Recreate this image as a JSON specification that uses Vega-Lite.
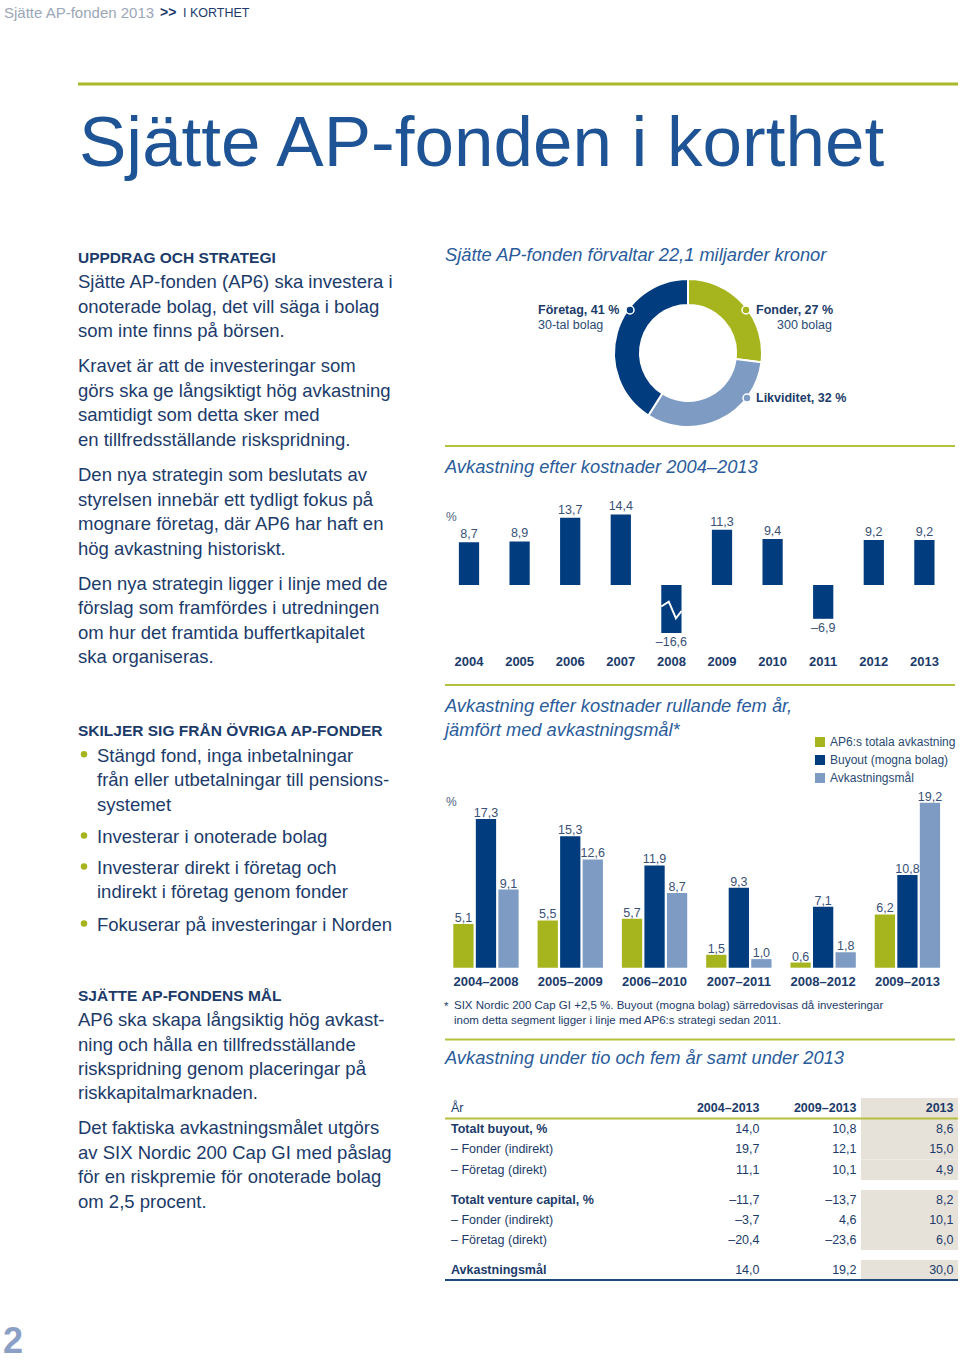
{
"$schema":"https://vega.github.io/schema/vega-lite/v6.json",
"width":960,"height":1362,"autosize":"none","padding":0,"background":"#ffffff",
"config":{
 "view":{"stroke":null},
 "font":"Liberation Sans",
 "axis":{"disable":true},
 "locale":{"number":{"decimal":",","thousands":" ","grouping":[3],"currency":["","kr"],"minus":"\u2013"}},
 "style":{
  "head":{"fontSize":15.5,"fontWeight":"bold","color":"#1c3b6a","align":"left","baseline":"middle"},
  "body":{"fontSize":18.5,"color":"#1c3b6a","align":"left","baseline":"middle"},
  "ital":{"fontSize":18.3,"fontStyle":"italic","color":"#2a5c9b","align":"left","baseline":"middle"},
  "pct":{"fontSize":12,"color":"#4b5f7e","align":"left","baseline":"middle"},
  "foot":{"fontSize":11.5,"color":"#1c3b6a","align":"left","baseline":"middle"},
  "dlab":{"fontSize":12.5,"fontWeight":"bold","color":"#1c3b6a","align":"left","baseline":"middle"},
  "dsub":{"fontSize":12.5,"color":"#2a4a72","align":"left","baseline":"middle"},
  "vlab":{"fontSize":12.5,"color":"#3a5176","align":"center","baseline":"alphabetic"},
  "xlab":{"fontSize":13,"fontWeight":"bold","color":"#1c3b6a","align":"center","baseline":"alphabetic"},
  "tab":{"fontSize":12.5,"color":"#1c3b6a","baseline":"middle"}
 }
},
"datasets":{
 "left":[
  {"b":1,"l":0,"k":"h","t":"UPPDRAG OCH STRATEGI"},
  {"b":1,"l":1,"k":"p","t":"Sjätte AP-fonden (AP6) ska investera i"},
  {"b":1,"l":2,"k":"p","t":"onoterade bolag, det vill säga i bolag"},
  {"b":1,"l":3,"k":"p","t":"som inte finns på börsen."},
  {"b":2,"l":0,"k":"p","t":"Kravet är att de investeringar som"},
  {"b":2,"l":1,"k":"p","t":"görs ska ge långsiktigt hög avkastning"},
  {"b":2,"l":2,"k":"p","t":"samtidigt som detta sker med"},
  {"b":2,"l":3,"k":"p","t":"en tillfredsställande riskspridning."},
  {"b":3,"l":0,"k":"p","t":"Den nya strategin som beslutats av"},
  {"b":3,"l":1,"k":"p","t":"styrelsen innebär ett tydligt fokus på"},
  {"b":3,"l":2,"k":"p","t":"mognare företag, där AP6 har haft en"},
  {"b":3,"l":3,"k":"p","t":"hög avkastning historiskt."},
  {"b":4,"l":0,"k":"p","t":"Den nya strategin ligger i linje med de"},
  {"b":4,"l":1,"k":"p","t":"förslag som framfördes i utredningen"},
  {"b":4,"l":2,"k":"p","t":"om hur det framtida buffertkapitalet"},
  {"b":4,"l":3,"k":"p","t":"ska organiseras."},
  {"b":5,"l":0,"k":"h","t":"SKILJER SIG FRÅN ÖVRIGA AP-FONDER"},
  {"b":5,"l":1,"k":"b","t":"Stängd fond, inga inbetalningar"},
  {"b":5,"l":2,"k":"c","t":"från eller utbetalningar till pensions-"},
  {"b":5,"l":3,"k":"c","t":"systemet"},
  {"b":6,"l":0,"k":"b","t":"Investerar i onoterade bolag"},
  {"b":7,"l":0,"k":"b","t":"Investerar direkt i företag och"},
  {"b":7,"l":1,"k":"c","t":"indirekt i företag genom fonder"},
  {"b":8,"l":0,"k":"b","t":"Fokuserar på investeringar i Norden"},
  {"b":9,"l":0,"k":"h","t":"SJÄTTE AP-FONDENS MÅL"},
  {"b":9,"l":1,"k":"p","t":"AP6 ska skapa långsiktig hög avkast-"},
  {"b":9,"l":2,"k":"p","t":"ning och hålla en tillfredsställande"},
  {"b":9,"l":3,"k":"p","t":"riskspridning genom placeringar på"},
  {"b":9,"l":4,"k":"p","t":"riskkapitalmarknaden."},
  {"b":10,"l":0,"k":"p","t":"Det faktiska avkastningsmålet utgörs"},
  {"b":10,"l":1,"k":"p","t":"av SIX Nordic 200 Cap GI med påslag"},
  {"b":10,"l":2,"k":"p","t":"för en riskpremie för onoterade bolag"},
  {"b":10,"l":3,"k":"p","t":"om 2,5 procent."}
 ],
 "donut":[
  {"name":"Fonder","pct":27,"o":1,"label":"Fonder, 27 %","sub":"300 bolag"},
  {"name":"Likviditet","pct":32,"o":2,"label":"Likviditet, 32 %","sub":""},
  {"name":"Företag","pct":41,"o":3,"label":"Företag, 41 %","sub":"30-tal bolag"}
 ],
 "yearly":[
  {"year":"2004","v":8.7},{"year":"2005","v":8.9},{"year":"2006","v":13.7},{"year":"2007","v":14.4},{"year":"2008","v":-16.6},
  {"year":"2009","v":11.3},{"year":"2010","v":9.4},{"year":"2011","v":-6.9},{"year":"2012","v":9.2},{"year":"2013","v":9.2}
 ],
 "rolling":[
  {"per":"2004–2008","s":"AP6:s totala avkastning","v":5.1},{"per":"2004–2008","s":"Buyout (mogna bolag)","v":17.3},{"per":"2004–2008","s":"Avkastningsmål","v":9.1},
  {"per":"2005–2009","s":"AP6:s totala avkastning","v":5.5},{"per":"2005–2009","s":"Buyout (mogna bolag)","v":15.3},{"per":"2005–2009","s":"Avkastningsmål","v":12.6},
  {"per":"2006–2010","s":"AP6:s totala avkastning","v":5.7},{"per":"2006–2010","s":"Buyout (mogna bolag)","v":11.9},{"per":"2006–2010","s":"Avkastningsmål","v":8.7},
  {"per":"2007–2011","s":"AP6:s totala avkastning","v":1.5},{"per":"2007–2011","s":"Buyout (mogna bolag)","v":9.3},{"per":"2007–2011","s":"Avkastningsmål","v":1.0},
  {"per":"2008–2012","s":"AP6:s totala avkastning","v":0.6},{"per":"2008–2012","s":"Buyout (mogna bolag)","v":7.1},{"per":"2008–2012","s":"Avkastningsmål","v":1.8},
  {"per":"2009–2013","s":"AP6:s totala avkastning","v":6.2},{"per":"2009–2013","s":"Buyout (mogna bolag)","v":10.8},{"per":"2009–2013","s":"Avkastningsmål","v":19.2}
 ],
 "table":[
  {"g":1,"row":"Totalt buyout, %","lv":"t","per":"2004–2013","v":14.0},{"g":1,"row":"Totalt buyout, %","lv":"t","per":"2009–2013","v":10.8},{"g":1,"row":"Totalt buyout, %","lv":"t","per":"2013","v":8.6},
  {"g":1,"row":"– Fonder (indirekt)","lv":"s","per":"2004–2013","v":19.7},{"g":1,"row":"– Fonder (indirekt)","lv":"s","per":"2009–2013","v":12.1},{"g":1,"row":"– Fonder (indirekt)","lv":"s","per":"2013","v":15.0},
  {"g":1,"row":"– Företag (direkt)","lv":"s","per":"2004–2013","v":11.1},{"g":1,"row":"– Företag (direkt)","lv":"s","per":"2009–2013","v":10.1},{"g":1,"row":"– Företag (direkt)","lv":"s","per":"2013","v":4.9},
  {"g":2,"row":"Totalt venture capital, %","lv":"t","per":"2004–2013","v":-11.7},{"g":2,"row":"Totalt venture capital, %","lv":"t","per":"2009–2013","v":-13.7},{"g":2,"row":"Totalt venture capital, %","lv":"t","per":"2013","v":8.2},
  {"g":2,"row":"– Fonder (indirekt)","lv":"s","per":"2004–2013","v":-3.7},{"g":2,"row":"– Fonder (indirekt)","lv":"s","per":"2009–2013","v":4.6},{"g":2,"row":"– Fonder (indirekt)","lv":"s","per":"2013","v":10.1},
  {"g":2,"row":"– Företag (direkt)","lv":"s","per":"2004–2013","v":-20.4},{"g":2,"row":"– Företag (direkt)","lv":"s","per":"2009–2013","v":-23.6},{"g":2,"row":"– Företag (direkt)","lv":"s","per":"2013","v":6.0},
  {"g":3,"row":"Avkastningsmål","lv":"t","per":"2004–2013","v":14.0},{"g":3,"row":"Avkastningsmål","lv":"t","per":"2009–2013","v":19.2},{"g":3,"row":"Avkastningsmål","lv":"t","per":"2013","v":30.0}
 ]
},
"resolve":{"scale":{"x":"independent","y":"independent","color":"independent","theta":"independent"}},
"layer":[
 {"data":{"values":[{}]},"layer":[
  {"mark":{"type":"text","text":"Sjätte AP-fonden 2013","x":4,"y":12.5,"align":"left","baseline":"middle","fontSize":15,"color":"#9ba7b6"}},
  {"mark":{"type":"text","text":">>","x":160,"y":12.5,"align":"left","baseline":"middle","fontSize":14,"fontWeight":"bold","color":"#1c3b6a"}},
  {"mark":{"type":"text","text":"I KORTHET","x":183,"y":13,"align":"left","baseline":"middle","fontSize":12.5,"color":"#1c3b6a"}},
  {"mark":{"type":"rule","color":"#aab92a","strokeWidth":3},"encoding":{"x":{"value":78},"x2":{"value":958},"y":{"value":84}}},
  {"mark":{"type":"text","text":"Sjätte AP-fonden i korthet","x":79,"y":166,"align":"left","baseline":"alphabetic","fontSize":71,"color":"#1e5495"}},
  {"mark":{"type":"text","text":"2","x":3,"y":1361,"align":"left","baseline":"bottom","fontSize":36,"fontWeight":"bold","color":"#8aa0c4"}},
  {"mark":{"type":"text","style":"ital","text":"Sjätte AP-fonden förvaltar 22,1 miljarder kronor","x":445,"y":256}},
  {"mark":{"type":"rule","color":"#b5c03e","strokeWidth":2},"encoding":{"x":{"value":445},"x2":{"value":955},"y":{"value":446}}},
  {"mark":{"type":"text","style":"ital","text":"Avkastning efter kostnader 2004–2013","x":445,"y":468}},
  {"mark":{"type":"text","style":"pct","text":"%","x":446,"y":517}},
  {"mark":{"type":"rule","color":"#b5c03e","strokeWidth":2},"encoding":{"x":{"value":445},"x2":{"value":955},"y":{"value":685}}},
  {"mark":{"type":"text","style":"ital","text":"Avkastning efter kostnader rullande fem år,","x":445,"y":707}},
  {"mark":{"type":"text","style":"ital","text":"jämfört med avkastningsmål*","x":445,"y":731}},
  {"mark":{"type":"text","style":"pct","text":"%","x":446,"y":802}},
  {"mark":{"type":"text","style":"foot","text":"*","x":444,"y":1007}},
  {"mark":{"type":"text","style":"foot","text":"SIX Nordic 200 Cap GI +2,5 %. Buyout (mogna bolag) särredovisas då investeringar","x":454,"y":1006}},
  {"mark":{"type":"text","style":"foot","text":"inom detta segment ligger i linje med AP6:s strategi sedan 2011.","x":454,"y":1021}},
  {"mark":{"type":"rule","color":"#b5c03e","strokeWidth":2},"encoding":{"x":{"value":445},"x2":{"value":955},"y":{"value":1039.5}}},
  {"mark":{"type":"text","style":"ital","text":"Avkastning under tio och fem år samt under 2013","x":445,"y":1059}}
 ]},
 {"data":{"name":"left"},"resolve":{"scale":{"y":"independent"}},"layer":[
  {"transform":[{"filter":"datum.b==1"}],"encoding":{"y":{"field":"l","type":"quantitative","scale":{"domain":[0,3],"range":[258,331],"nice":false,"zero":false}}},"layer":[
   {"transform":[{"filter":"datum.k=='h'"}],"mark":{"type":"text","style":"head"},"encoding":{"x":{"value":78},"text":{"field":"t"}}},
   {"transform":[{"filter":"datum.k=='p'"}],"mark":{"type":"text","style":"body"},"encoding":{"x":{"value":78},"text":{"field":"t"}}}]},
  {"transform":[{"filter":"datum.b==2"}],"encoding":{"y":{"field":"l","type":"quantitative","scale":{"domain":[0,3],"range":[366,440],"nice":false,"zero":false}}},"layer":[
   {"mark":{"type":"text","style":"body"},"encoding":{"x":{"value":78},"text":{"field":"t"}}}]},
  {"transform":[{"filter":"datum.b==3"}],"encoding":{"y":{"field":"l","type":"quantitative","scale":{"domain":[0,3],"range":[475,548.5],"nice":false,"zero":false}}},"layer":[
   {"mark":{"type":"text","style":"body"},"encoding":{"x":{"value":78},"text":{"field":"t"}}}]},
  {"transform":[{"filter":"datum.b==4"}],"encoding":{"y":{"field":"l","type":"quantitative","scale":{"domain":[0,3],"range":[584,657],"nice":false,"zero":false}}},"layer":[
   {"mark":{"type":"text","style":"body"},"encoding":{"x":{"value":78},"text":{"field":"t"}}}]},
  {"transform":[{"filter":"datum.b==5"}],"encoding":{"y":{"field":"l","type":"quantitative","scale":{"domain":[0,3],"range":[731,805],"nice":false,"zero":false}}},"layer":[
   {"transform":[{"filter":"datum.k=='h'"}],"mark":{"type":"text","style":"head"},"encoding":{"x":{"value":78},"text":{"field":"t"}}},
   {"transform":[{"filter":"datum.k=='b'||datum.k=='c'"}],"mark":{"type":"text","style":"body"},"encoding":{"x":{"value":97},"text":{"field":"t"}}},
   {"transform":[{"filter":"datum.k=='b'"}],"mark":{"type":"point","filled":true,"size":42,"yOffset":-1.5,"color":"#a6b51e","opacity":1},"encoding":{"x":{"value":84}}}]},
  {"transform":[{"filter":"datum.b==6"}],"encoding":{"y":{"field":"l","type":"quantitative","scale":{"domain":[0,1],"range":[837,861.5],"nice":false,"zero":false}}},"layer":[
   {"mark":{"type":"text","style":"body"},"encoding":{"x":{"value":97},"text":{"field":"t"}}},
   {"transform":[{"filter":"datum.k=='b'"}],"mark":{"type":"point","filled":true,"size":42,"yOffset":-1.5,"color":"#a6b51e","opacity":1},"encoding":{"x":{"value":84}}}]},
  {"transform":[{"filter":"datum.b==7"}],"encoding":{"y":{"field":"l","type":"quantitative","scale":{"domain":[0,1],"range":[868,892],"nice":false,"zero":false}}},"layer":[
   {"mark":{"type":"text","style":"body"},"encoding":{"x":{"value":97},"text":{"field":"t"}}},
   {"transform":[{"filter":"datum.k=='b'"}],"mark":{"type":"point","filled":true,"size":42,"yOffset":-1.5,"color":"#a6b51e","opacity":1},"encoding":{"x":{"value":84}}}]},
  {"transform":[{"filter":"datum.b==8"}],"encoding":{"y":{"field":"l","type":"quantitative","scale":{"domain":[0,1],"range":[925,949.5],"nice":false,"zero":false}}},"layer":[
   {"mark":{"type":"text","style":"body"},"encoding":{"x":{"value":97},"text":{"field":"t"}}},
   {"transform":[{"filter":"datum.k=='b'"}],"mark":{"type":"point","filled":true,"size":42,"yOffset":-1.5,"color":"#a6b51e","opacity":1},"encoding":{"x":{"value":84}}}]},
  {"transform":[{"filter":"datum.b==9"}],"encoding":{"y":{"field":"l","type":"quantitative","scale":{"domain":[0,4],"range":[996,1093],"nice":false,"zero":false}}},"layer":[
   {"transform":[{"filter":"datum.k=='h'"}],"mark":{"type":"text","style":"head"},"encoding":{"x":{"value":78},"text":{"field":"t"}}},
   {"transform":[{"filter":"datum.k=='p'"}],"mark":{"type":"text","style":"body"},"encoding":{"x":{"value":78},"text":{"field":"t"}}}]},
  {"transform":[{"filter":"datum.b==10"}],"encoding":{"y":{"field":"l","type":"quantitative","scale":{"domain":[0,3],"range":[1128,1202],"nice":false,"zero":false}}},"layer":[
   {"mark":{"type":"text","style":"body"},"encoding":{"x":{"value":78},"text":{"field":"t"}}}]}
 ]},
 {"data":{"name":"donut"},"layer":[
  {"mark":{"type":"arc","innerRadius":48,"outerRadius":74,"stroke":"#ffffff","strokeWidth":2},
   "encoding":{"x":{"value":688},"y":{"value":353},"theta":{"field":"pct","type":"quantitative","stack":true},"order":{"field":"o","type":"quantitative"},
    "color":{"field":"name","type":"nominal","scale":{"domain":["Fonder","Likviditet","Företag"],"range":["#a6b51e","#7e9bc4","#003c7e"]},"legend":null}}},
  {"transform":[{"filter":"datum.name=='Företag'"}],"mark":{"type":"point","filled":true,"size":64,"stroke":"#ffffff","strokeWidth":1.5,"opacity":1},"encoding":{"x":{"value":630},"y":{"value":310},"color":{"field":"name","type":"nominal","legend":null}}},
  {"transform":[{"filter":"datum.name=='Fonder'"}],"mark":{"type":"point","filled":true,"size":64,"stroke":"#ffffff","strokeWidth":1.5,"opacity":1},"encoding":{"x":{"value":746},"y":{"value":310},"color":{"field":"name","type":"nominal","legend":null}}},
  {"transform":[{"filter":"datum.name=='Likviditet'"}],"mark":{"type":"point","filled":true,"size":64,"stroke":"#ffffff","strokeWidth":1.5,"opacity":1},"encoding":{"x":{"value":747},"y":{"value":398},"color":{"field":"name","type":"nominal","legend":null}}},
  {"transform":[{"filter":"datum.name=='Företag'"}],"mark":{"type":"text","style":"dlab"},"encoding":{"x":{"value":538},"y":{"value":310},"text":{"field":"label"}}},
  {"transform":[{"filter":"datum.name=='Företag'"}],"mark":{"type":"text","style":"dsub"},"encoding":{"x":{"value":538},"y":{"value":325},"text":{"field":"sub"}}},
  {"transform":[{"filter":"datum.name=='Fonder'"}],"mark":{"type":"text","style":"dlab"},"encoding":{"x":{"value":756},"y":{"value":310},"text":{"field":"label"}}},
  {"transform":[{"filter":"datum.name=='Fonder'"}],"mark":{"type":"text","style":"dsub"},"encoding":{"x":{"value":777},"y":{"value":325},"text":{"field":"sub"}}},
  {"transform":[{"filter":"datum.name=='Likviditet'"}],"mark":{"type":"text","style":"dlab"},"encoding":{"x":{"value":756},"y":{"value":398},"text":{"field":"label"}}}
 ]},
 {"data":{"name":"yearly"},
  "encoding":{"x":{"field":"year","type":"nominal","sort":null,"scale":{"range":[443.7,949.7],"paddingInner":0.6,"paddingOuter":0.3}},
   "y":{"field":"v","type":"quantitative","scale":{"domain":[-9.8,16],"range":[633,506.6],"clamp":true,"nice":false,"zero":false}}},
  "layer":[
   {"mark":{"type":"bar","color":"#003c7e"}},
   {"transform":[{"filter":"datum.year=='2008'"}],"mark":{"type":"point","shape":"M-1,-0.34L-0.26,-0.82L0.45,0.82L1,0.1","filled":false,"size":410,"stroke":"#ffffff","strokeWidth":2,"opacity":1,"strokeJoin":"miter"},"encoding":{"y":{"datum":-5.1}}},
   {"data":{"values":[{}]},"mark":{"type":"rule","color":"#a3abb3","strokeWidth":1.5},"encoding":{"x":{"value":445},"x2":{"value":950},"y":{"datum":0}}},
   {"transform":[{"filter":"datum.v>=0"}],"mark":{"type":"text","style":"vlab","dy":-4},"encoding":{"text":{"field":"v","type":"quantitative","format":".1f"}}},
   {"transform":[{"filter":"datum.v<0"}],"mark":{"type":"text","style":"vlab","dy":13},"encoding":{"text":{"field":"v","type":"quantitative","format":".1f"}}},
   {"mark":{"type":"text","style":"xlab","dy":32.5},"encoding":{"y":{"datum":-9.8},"text":{"field":"year"}}}
  ]},
 {"data":{"name":"rolling"},
  "encoding":{"x":{"field":"per","type":"nominal","sort":null,"scale":{"range":[443.7,949.7],"paddingInner":0.225,"paddingOuter":0.114}},
   "y":{"field":"v","type":"quantitative","scale":{"domain":[0,20],"range":[967.7,795.9],"nice":false,"zero":false}}},
  "layer":[
   {"mark":{"type":"bar"},"encoding":{
     "xOffset":{"field":"s","type":"nominal","sort":null,"scale":{"domain":["AP6:s totala avkastning","Buyout (mogna bolag)","Avkastningsmål"],"paddingInner":0.1,"paddingOuter":0}},
     "color":{"field":"s","type":"nominal","sort":null,"scale":{"domain":["AP6:s totala avkastning","Buyout (mogna bolag)","Avkastningsmål"],"range":["#a6b51e","#003c7e","#7e9bc4"]},
      "legend":{"orient":"none","legendX":814,"legendY":736,"title":null,"symbolType":"square","symbolSize":100,"symbolStrokeWidth":0,"labelFontSize":12,"labelColor":"#2a4a72","labelFont":"Liberation Sans","rowPadding":6,"padding":0,"labelOffset":4}}}},
   {"mark":{"type":"text","style":"vlab","dy":-2},"encoding":{
     "xOffset":{"field":"s","type":"nominal","sort":null},
     "text":{"field":"v","type":"quantitative","format":".1f"}}},
   {"data":{"values":[{}]},"mark":{"type":"rule","color":"#a3abb3","strokeWidth":1.5},"encoding":{"x":{"value":445},"x2":{"value":950},"y":{"datum":0}}},
   {"transform":[{"filter":"datum.s=='Buyout (mogna bolag)'"}],"mark":{"type":"text","style":"xlab","dy":18.5},"encoding":{"y":{"datum":0},"text":{"field":"per"}}}
  ]},
 {"data":{"name":"table"},
  "encoding":{"x":{"field":"per","type":"nominal","sort":null,"scale":{"domain":["2004–2013","2009–2013","2013"],"range":[667,958],"paddingInner":0,"paddingOuter":0}}},
  "resolve":{"scale":{"y":"independent"}},
  "layer":[
   {"transform":[{"filter":"datum.g==1"}],
    "encoding":{"y":{"field":"row","type":"nominal","sort":null,"scale":{"domain":["År","Totalt buyout, %","– Fonder (indirekt)","– Företag (direkt)"],"range":[1098,1180],"paddingInner":0,"paddingOuter":0}}},
    "layer":[
     {"transform":[{"filter":"datum.per=='2013'"}],"mark":{"type":"rect","color":"#e7e2d9"}},
     {"transform":[{"filter":"datum.per=='2013' && datum.lv=='t'"}],"mark":{"type":"rect","color":"#e7e2d9"},"encoding":{"y":{"datum":"År"}}},
     {"transform":[{"filter":"datum.lv=='t'"}],"mark":{"type":"text","style":"tab","align":"right","dx":-4.5,"fontWeight":"bold"},"encoding":{"x":{"field":"per","type":"nominal","bandPosition":1},"y":{"datum":"År"},"text":{"field":"per"}}},
     {"transform":[{"filter":"datum.lv=='t' && datum.per=='2013'"}],"mark":{"type":"text","style":"tab","align":"left","text":"År"},"encoding":{"x":{"value":451},"y":{"datum":"År"}}},
     {"transform":[{"filter":"datum.lv=='t' && datum.per=='2013'"}],"mark":{"type":"rule","color":"#b5c03e","strokeWidth":2},"encoding":{"x":{"value":445},"x2":{"value":958},"y":{"datum":"Totalt buyout, %","bandPosition":0}}},
     {"transform":[{"filter":"datum.lv=='t' && datum.per=='2013'"}],"mark":{"type":"text","style":"tab","align":"left","fontWeight":"bold"},"encoding":{"x":{"value":451},"text":{"field":"row"}}},
     {"transform":[{"filter":"datum.lv=='s' && datum.per=='2013'"}],"mark":{"type":"text","style":"tab","align":"left"},"encoding":{"x":{"value":451},"text":{"field":"row"}}},
     {"mark":{"type":"text","style":"tab","align":"right","dx":-4.5},"encoding":{"x":{"field":"per","type":"nominal","bandPosition":1},"text":{"field":"v","type":"quantitative","format":".1f"}}}
    ]},
   {"transform":[{"filter":"datum.g==2"}],
    "encoding":{"y":{"field":"row","type":"nominal","sort":null,"scale":{"domain":["Totalt venture capital, %","– Fonder (indirekt)","– Företag (direkt)"],"range":[1190,1250],"paddingInner":0,"paddingOuter":0}}},
    "layer":[
     {"transform":[{"filter":"datum.per=='2013'"}],"mark":{"type":"rect","color":"#e7e2d9"}},
     {"transform":[{"filter":"datum.lv=='t' && datum.per=='2013'"}],"mark":{"type":"text","style":"tab","align":"left","fontWeight":"bold"},"encoding":{"x":{"value":451},"text":{"field":"row"}}},
     {"transform":[{"filter":"datum.lv=='s' && datum.per=='2013'"}],"mark":{"type":"text","style":"tab","align":"left"},"encoding":{"x":{"value":451},"text":{"field":"row"}}},
     {"mark":{"type":"text","style":"tab","align":"right","dx":-4.5},"encoding":{"x":{"field":"per","type":"nominal","bandPosition":1},"text":{"field":"v","type":"quantitative","format":".1f"}}}
    ]},
   {"transform":[{"filter":"datum.g==3"}],
    "encoding":{"y":{"field":"row","type":"nominal","sort":null,"scale":{"domain":["Avkastningsmål"],"range":[1260,1280],"paddingInner":0,"paddingOuter":0}}},
    "layer":[
     {"transform":[{"filter":"datum.per=='2013'"}],"mark":{"type":"rect","color":"#e7e2d9"}},
     {"transform":[{"filter":"datum.per=='2013'"}],"mark":{"type":"text","style":"tab","align":"left","fontWeight":"bold"},"encoding":{"x":{"value":451},"text":{"field":"row"}}},
     {"mark":{"type":"text","style":"tab","align":"right","dx":-4.5},"encoding":{"x":{"field":"per","type":"nominal","bandPosition":1},"text":{"field":"v","type":"quantitative","format":".1f"}}},
     {"transform":[{"filter":"datum.per=='2013'"}],"mark":{"type":"rule","color":"#1f4a7c","strokeWidth":2},"encoding":{"x":{"value":445},"x2":{"value":958},"y":{"datum":"Avkastningsmål","bandPosition":1}}}
    ]}
  ]}
]
}
